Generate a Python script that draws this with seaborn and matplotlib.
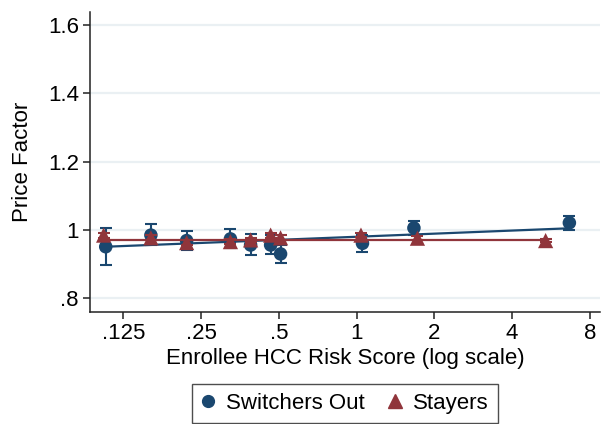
import numpy as np
import pandas as pd
import matplotlib
matplotlib.use("Agg")
import matplotlib.pyplot as plt
from matplotlib.lines import Line2D
import seaborn as sns

# values
switch_x = [0.107, 0.160, 0.220, 0.325, 0.389, 0.465, 0.508, 1.054, 1.667, 6.66]
switch_y = [0.951, 0.985, 0.969, 0.974, 0.956, 0.956, 0.930, 0.961, 1.006, 1.021]
switch_lo = [0.898, 0.955, 0.941, 0.947, 0.927, 0.930, 0.903, 0.936, 0.985, 1.000]
switch_hi = [1.007, 1.018, 0.997, 1.003, 0.988, 0.985, 0.956, 0.985, 1.027, 1.042]

stay_x = [0.105, 0.160, 0.220, 0.325, 0.389, 0.465, 0.508, 1.04, 1.72, 5.39]
stay_y = [0.985, 0.977, 0.963, 0.966, 0.971, 0.985, 0.977, 0.985, 0.976, 0.969]
stay_lo = [0.978, 0.970, 0.956, 0.959, 0.964, 0.978, 0.970, 0.980, 0.971, 0.964]
stay_hi = [0.992, 0.984, 0.970, 0.973, 0.978, 0.992, 0.984, 0.990, 0.981, 0.974]

# fitted lines (endpoints)
switch_fit_x = [0.107, 6.66]
switch_fit_y = [0.951, 1.005]
stay_fit_x = [0.105, 5.39]
stay_fit_y = [0.972, 0.972]

x_ticks = [0.125, 0.25, 0.5, 1, 2, 4, 8]
x_ticklabels = [".125", ".25", ".5", "1", "2", "4", "8"]
y_ticks = [0.8, 1.0, 1.2, 1.4, 1.6]
y_ticklabels = [".8", "1", "1.2", "1.4", "1.6"]

blue = "#1a476f"
red = "#90353b"
fs = 16

sns.set_style("white")
plt.rcParams["font.family"] = ["Liberation Sans", "DejaVu Sans"]
plt.rcParams["text.color"] = "black"
plt.rcParams["axes.labelcolor"] = "black"
plt.rcParams["xtick.labelcolor"] = "black"
plt.rcParams["ytick.labelcolor"] = "black"

fig = plt.figure(figsize=(6.03, 4.24), dpi=100)
ax = fig.add_axes([90 / 603, 1 - 312 / 424, 510 / 603, 300 / 424])

df_sw = pd.DataFrame({"x": switch_x, "y": switch_y})
df_st = pd.DataFrame({"x": stay_x, "y": stay_y})

ax.set_xscale("log", base=2)

for g in y_ticks:
    ax.axhline(g, color="#eaf0f3", lw=1.6, zorder=0)

# switchers
sns.lineplot(x=switch_fit_x, y=switch_fit_y, color=blue, lw=1.6, ax=ax, zorder=2)
ax.errorbar(switch_x, switch_y,
            yerr=[np.array(switch_y) - np.array(switch_lo), np.array(switch_hi) - np.array(switch_y)],
            fmt="none", ecolor=blue, elinewidth=1.5, capsize=4.5, capthick=1.5, zorder=3)
sns.scatterplot(data=df_sw, x="x", y="y", color=blue, marker="o", s=95,
                edgecolor="none", ax=ax, zorder=4)

# stayers
sns.lineplot(x=stay_fit_x, y=stay_fit_y, color=red, lw=1.6, ax=ax, zorder=5)
ax.errorbar(stay_x, stay_y,
            yerr=[np.array(stay_y) - np.array(stay_lo), np.array(stay_hi) - np.array(stay_y)],
            fmt="none", ecolor=red, elinewidth=1.5, capsize=4.5, capthick=1.5, zorder=6)
sns.scatterplot(data=df_st, x="x", y="y", color=red, marker="^", s=120,
                edgecolor="none", ax=ax, zorder=7)

ax.set_xlim(0.093, 8.75)
ax.set_ylim(0.76, 1.638)
ax.set_xticks(x_ticks)
ax.set_xticklabels(x_ticklabels)
ax.set_yticks(y_ticks)
ax.set_yticklabels(y_ticklabels)
ax.xaxis.set_minor_locator(matplotlib.ticker.NullLocator())

for s in ["top", "right"]:
    ax.spines[s].set_visible(False)
for s in ["left", "bottom"]:
    ax.spines[s].set_color("#222222")
    ax.spines[s].set_linewidth(1.1)

ax.tick_params(axis="both", direction="out", length=5, width=1.1, color="#222222",
               labelsize=fs, pad=3, bottom=True, left=True)
ax.set_xlabel("Enrollee HCC Risk Score (log scale)", fontsize=fs, labelpad=3)
ax.set_ylabel("Price Factor", fontsize=fs, labelpad=11)

handles = [
    Line2D([], [], color=blue, marker="o", linestyle="none", markersize=8.5),
    Line2D([], [], color=red, marker="^", linestyle="none", markersize=9.5),
]
leg = ax.legend(handles, ["Switchers Out", "Stayers"], loc="upper center",
                bbox_to_anchor=(0.5, -0.24), borderaxespad=0, ncol=2, frameon=True,
                fancybox=False, fontsize=fs, handletextpad=0.5, columnspacing=1.1,
                borderpad=0.4, handlelength=0.6)
leg.get_frame().set_edgecolor("#222222")
leg.get_frame().set_linewidth(1.0)

fig.savefig("out.png", dpi=100)
